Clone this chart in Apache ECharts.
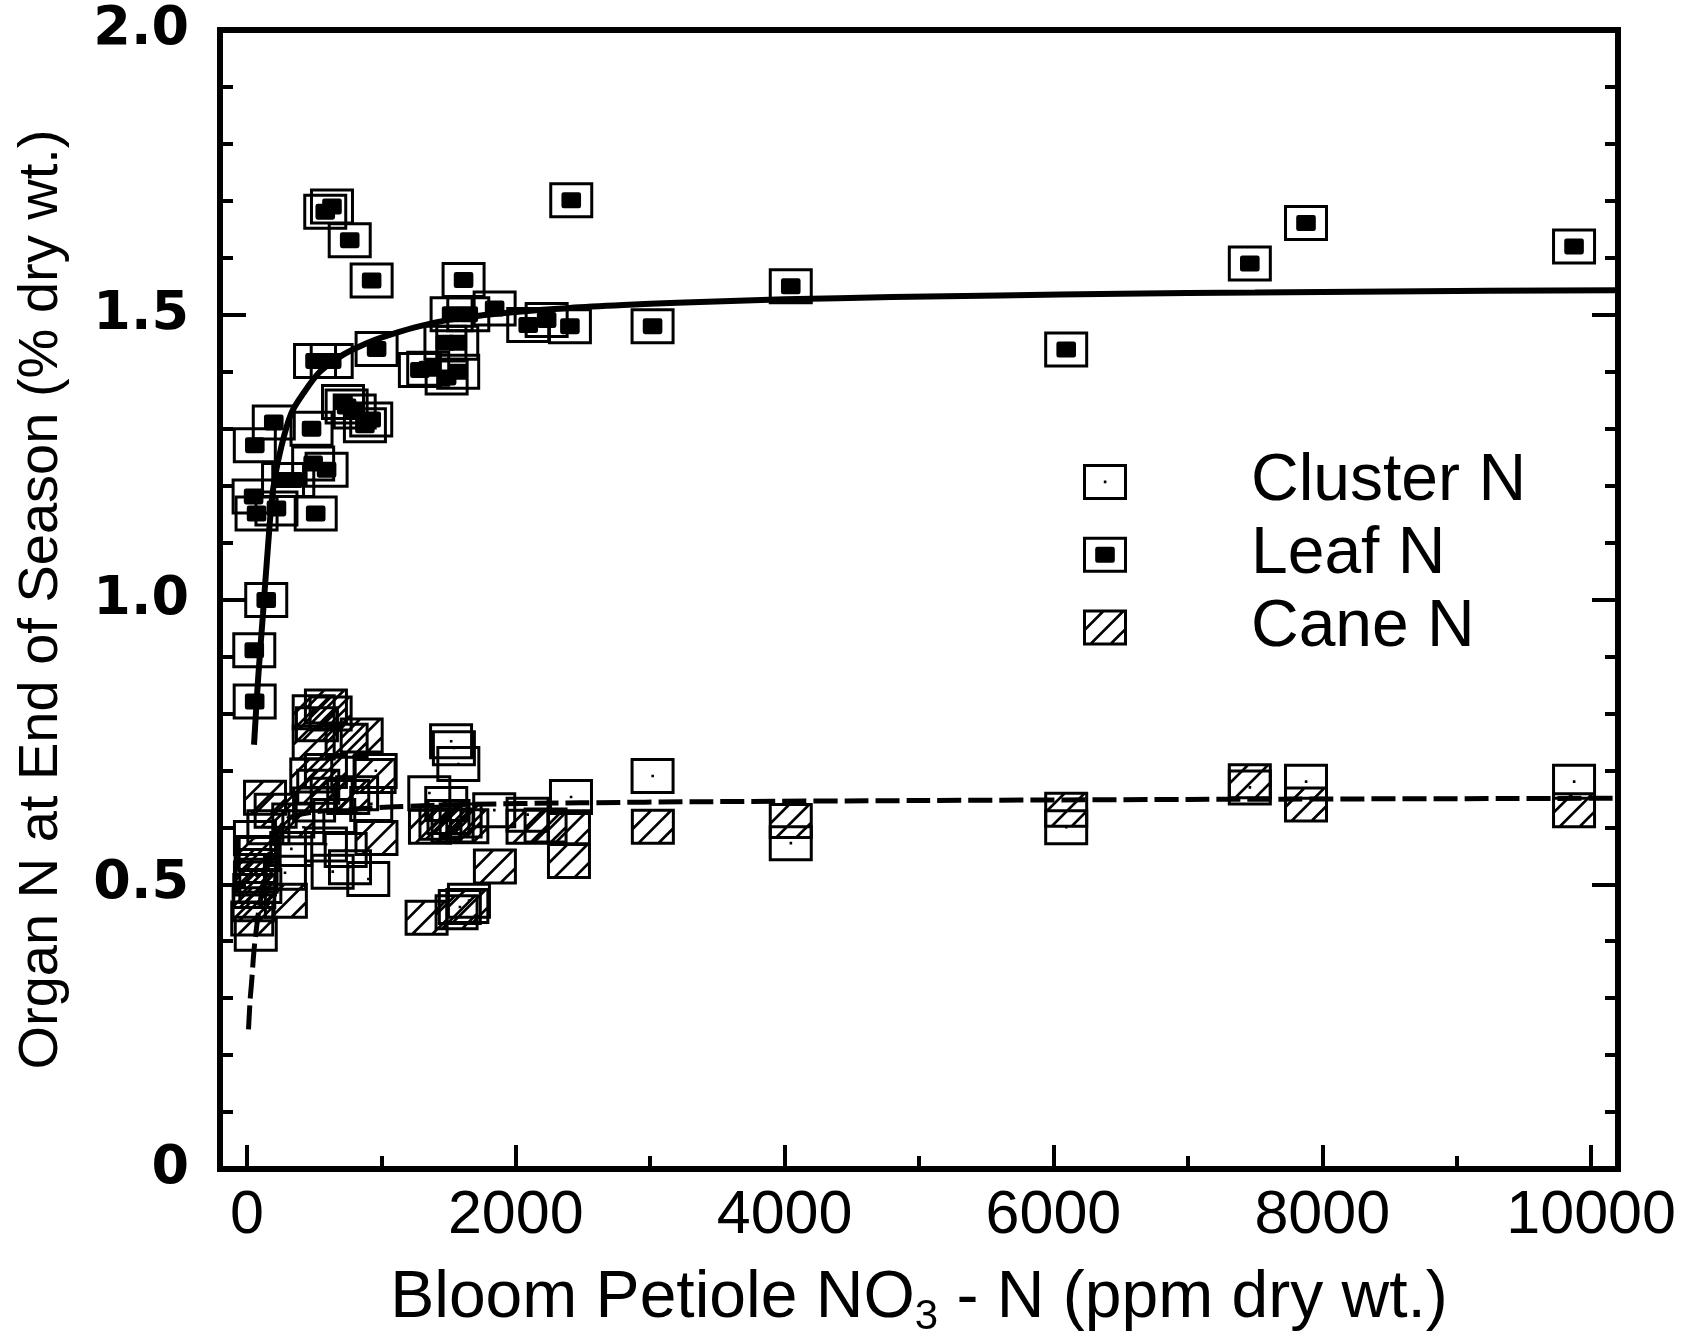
<!DOCTYPE html>
<html>
<head>
<meta charset="utf-8">
<script src="https://cdn.jsdelivr.net/npm/echarts@6/dist/echarts.min.js"></script>
<style>
  html, body { margin: 0; padding: 0; background: #fff; }
  #chart { width: 1694px; height: 1334px; }
</style>
</head>
<body>
<div id="chart"></div>
<script>
// Organ N at end of season vs. bloom petiole NO3-N

const xMajorTicks = [0, 2000, 4000, 6000, 8000, 10000];
const xMinorTicks = [1000, 3000, 5000, 7000, 9000];

// [petiole NO3-N (ppm), organ N (%)]
const clusterN = [
  [60, 0.581], [66, 0.413], [72, 0.515], [95, 0.553], [160, 0.600], [283, 0.520],
  [330, 0.562], [420, 0.600], [500, 0.640], [588, 0.570], [638, 0.522], [650, 0.620],
  [735, 0.560], [767, 0.530], [820, 0.660], [903, 0.509], [925, 0.641], [958, 0.699],
  [1357, 0.660], [1483, 0.641], [1519, 0.751], [1540, 0.739], [1573, 0.711],
  [1584, 0.460], [1652, 0.471], [1840, 0.630], [2088, 0.622], [2411, 0.653],
  [3018, 0.690], [4046, 0.572], [6095, 0.600], [7461, 0.670], [7879, 0.680], [9873, 0.680]
];

const leafN = [
  [583, 1.681], [633, 1.690], [765, 1.631], [928, 1.560], [2413, 1.701], [1612, 1.561],
  [1523, 1.501], [1647, 1.501], [1843, 1.511], [2093, 1.482], [2230, 1.491], [2403, 1.480],
  [965, 1.440], [507, 1.419], [631, 1.419], [1477, 1.451], [1565, 1.451], [1287, 1.403],
  [1349, 1.405], [1486, 1.390], [1572, 1.400], [715, 1.347], [742, 1.339], [802, 1.330],
  [878, 1.306], [925, 1.316], [200, 1.311], [481, 1.300], [59, 1.271], [493, 1.239],
  [593, 1.228], [269, 1.210], [345, 1.210], [50, 1.181], [72, 1.151], [220, 1.160],
  [512, 1.151], [144, 0.999], [55, 0.911], [58, 0.821],
  [3018, 1.480], [4046, 1.550], [6095, 1.439], [7461, 1.590], [7879, 1.661], [9873, 1.620]
];

const caneN = [
  [40, 0.440], [50, 0.465], [55, 0.488], [60, 0.510], [65, 0.532], [75, 0.555],
  [100, 0.497], [135, 0.652], [214, 0.629], [290, 0.471], [345, 0.612], [479, 0.691],
  [497, 0.749], [497, 0.802], [521, 0.781], [531, 0.671], [588, 0.812], [588, 0.699],
  [631, 0.657], [623, 0.800], [742, 0.752], [754, 0.653], [854, 0.761], [950, 0.690],
  [964, 0.581], [1337, 0.441], [1362, 0.601], [1440, 0.608], [1500, 0.618], [1530, 0.603],
  [1560, 0.451], [1590, 0.612], [1640, 0.462], [1640, 0.602], [1845, 0.531], [2088, 0.601],
  [2222, 0.603], [2396, 0.600], [2396, 0.541], [3020, 0.601], [4046, 0.611], [6095, 0.631],
  [7461, 0.681], [7879, 0.640], [9873, 0.630]
];

// fitted response curves
const leafFit = [
  [53, 0.745], [83, 0.859], [120, 0.976], [157, 1.093], [194, 1.192], [256, 1.268],
  [330, 1.327], [420, 1.362], [544, 1.400], [717, 1.430], [891, 1.450], [1000, 1.460],
  [1250, 1.478], [1500, 1.491], [1750, 1.499], [2000, 1.505], [2400, 1.512], [2800, 1.517],
  [3200, 1.521], [4000, 1.527], [4800, 1.531], [5600, 1.534], [6500, 1.537], [7500, 1.539],
  [8500, 1.541], [10200, 1.543]
];

const caneFit = [
  [12, 0.245], [25, 0.300], [36, 0.330], [48, 0.370], [60, 0.400], [97, 0.467],
  [171, 0.555], [295, 0.613], [500, 0.627], [800, 0.632], [1100, 0.636], [1600, 0.640],
  [2478, 0.643], [3444, 0.645], [5000, 0.647], [7000, 0.649], [10200, 0.651]
];

const FONT = '"Liberation Sans", Arial, Helvetica, sans-serif';

// Marker shapes on a 44 x 36 box: outer edge clockwise, hole counter-clockwise
const BOX = 'M0 0H44V36H0Z M3 3V33H41V3Z';
const clusterSymbol = 'path://' + BOX + ' M20.8 16.6H23.4V19.2H20.8Z';
const leafSymbol = 'path://' + BOX +
  ' M14.5 10H29.5Q31.8 10 31.8 12.3V23.7Q31.8 26 29.5 26H14.5Q12.2 26 12.2 23.7V12.3Q12.2 10 14.5 10Z';
const caneSymbol = 'path://' + BOX +
  ' M1.5 18.6L18.6 1.5L22.4 1.5L1.5 22.4Z' +
  ' M5.6 34.5L38.6 1.5L42.4 1.5L9.4 34.5Z' +
  ' M25.6 34.5L42.5 17.6L42.5 21.4L29.4 34.5Z';

const chart = echarts.init(document.getElementById('chart'), null, { renderer: 'canvas' });

const tickStyle = { color: '#000', width: 4 };
const markerStyle = { color: '#000', opacity: 1 };

chart.setOption({
  animation: false,
  backgroundColor: '#fff',
  grid: {
    left: 220, right: 76, top: 30, bottom: 165,
    containLabel: false, outerBoundsMode: 'none',
    show: true, borderColor: '#000', borderWidth: 6, backgroundColor: 'transparent'
  },
  legend: {
    orient: 'vertical',
    left: 1078, top: 444,
    itemWidth: 44, itemHeight: 36, itemGap: 6.8,
    selectedMode: false,
    textStyle: { fontFamily: FONT, fontSize: 66, color: '#000', padding: [0, 0, 0, 119] },
    data: [
      { name: 'Cluster N', icon: clusterSymbol, itemStyle: markerStyle },
      { name: 'Leaf N', icon: leafSymbol, itemStyle: markerStyle },
      { name: 'Cane N', icon: caneSymbol, itemStyle: markerStyle }
    ]
  },
  xAxis: [
    {
      type: 'value', min: -200, max: 10200, position: 'bottom',
      axisLine: { show: false, onZero: false },
      splitLine: { show: false },
      axisTick: { show: true, inside: true, length: 24, lineStyle: tickStyle, customValues: xMajorTicks },
      axisLabel: {
        customValues: xMajorTicks, margin: 17,
        fontFamily: FONT, fontSize: 61, color: '#000',
        formatter: v => String(v)
      },
      name: '{a|Bloom Petiole NO}{s|3}{a| - N (ppm dry wt.)}',
      nameLocation: 'middle', nameGap: 91,
      nameTextStyle: {
        color: '#000',
        rich: {
          a: { fontFamily: FONT, fontSize: 66, color: '#000', lineHeight: 78 },
          s: { fontFamily: FONT, fontSize: 42, color: '#000', lineHeight: 40, verticalAlign: 'bottom' }
        }
      }
    },
    {
      type: 'value', min: -200, max: 10200, position: 'bottom',
      axisLine: { show: false, onZero: false },
      splitLine: { show: false },
      axisTick: { show: true, inside: true, length: 13, lineStyle: tickStyle, customValues: xMinorTicks },
      axisLabel: { show: false }
    }
  ],
  yAxis: [
    {
      type: 'value', min: 0, max: 2, interval: 0.5, position: 'left',
      axisLine: { show: false, onZero: false },
      splitLine: { show: false },
      axisTick: { show: true, inside: true, length: 26, lineStyle: tickStyle },
      minorTick: { show: true, splitNumber: 5, length: 13, lineStyle: tickStyle },
      minorSplitLine: { show: false },
      axisLabel: {
        margin: 31, fontFamily: '"DejaVu Sans", sans-serif', fontWeight: 'bold',
        fontSize: 54, color: '#000',
        formatter: v => (v === 0 ? '0' : v.toFixed(1))
      },
      name: 'Organ N at End of Season (% dry wt.)',
      nameLocation: 'middle', nameRotate: 90, nameGap: 150,
      nameTextStyle: { fontFamily: FONT, fontSize: 56, color: '#000' }
    },
    {
      type: 'value', min: 0, max: 2, interval: 0.5, position: 'right',
      axisLine: { show: false, onZero: false },
      splitLine: { show: false },
      axisTick: { show: true, inside: true, length: 26, lineStyle: tickStyle },
      minorTick: { show: true, splitNumber: 5, length: 13, lineStyle: tickStyle },
      minorSplitLine: { show: false },
      axisLabel: { show: false }
    }
  ],
  series: [
    {
      name: 'Cane N', type: 'scatter', data: caneN,
      symbol: caneSymbol, symbolSize: [44, 36],
      itemStyle: markerStyle, emphasis: { disabled: true }, z: 2
    },
    {
      name: 'Cluster N', type: 'scatter', data: clusterN,
      symbol: clusterSymbol, symbolSize: [44, 36],
      itemStyle: markerStyle, emphasis: { disabled: true }, z: 2
    },
    {
      name: 'Leaf N', type: 'scatter', data: leafN,
      symbol: leafSymbol, symbolSize: [44, 36],
      itemStyle: markerStyle, emphasis: { disabled: true }, z: 2
    },
    {
      name: 'Leaf fit', type: 'line', data: leafFit,
      showSymbol: false, smooth: 0.3, silent: true,
      lineStyle: { color: '#000', width: 6 }, z: 5
    },
    {
      name: 'Cane fit', type: 'line', data: caneFit,
      showSymbol: false, smooth: 0.3, silent: true,
      lineStyle: { color: '#000', width: 5, type: [24, 7] }, z: 5
    }
  ]
});
</script>
</body>
</html>
